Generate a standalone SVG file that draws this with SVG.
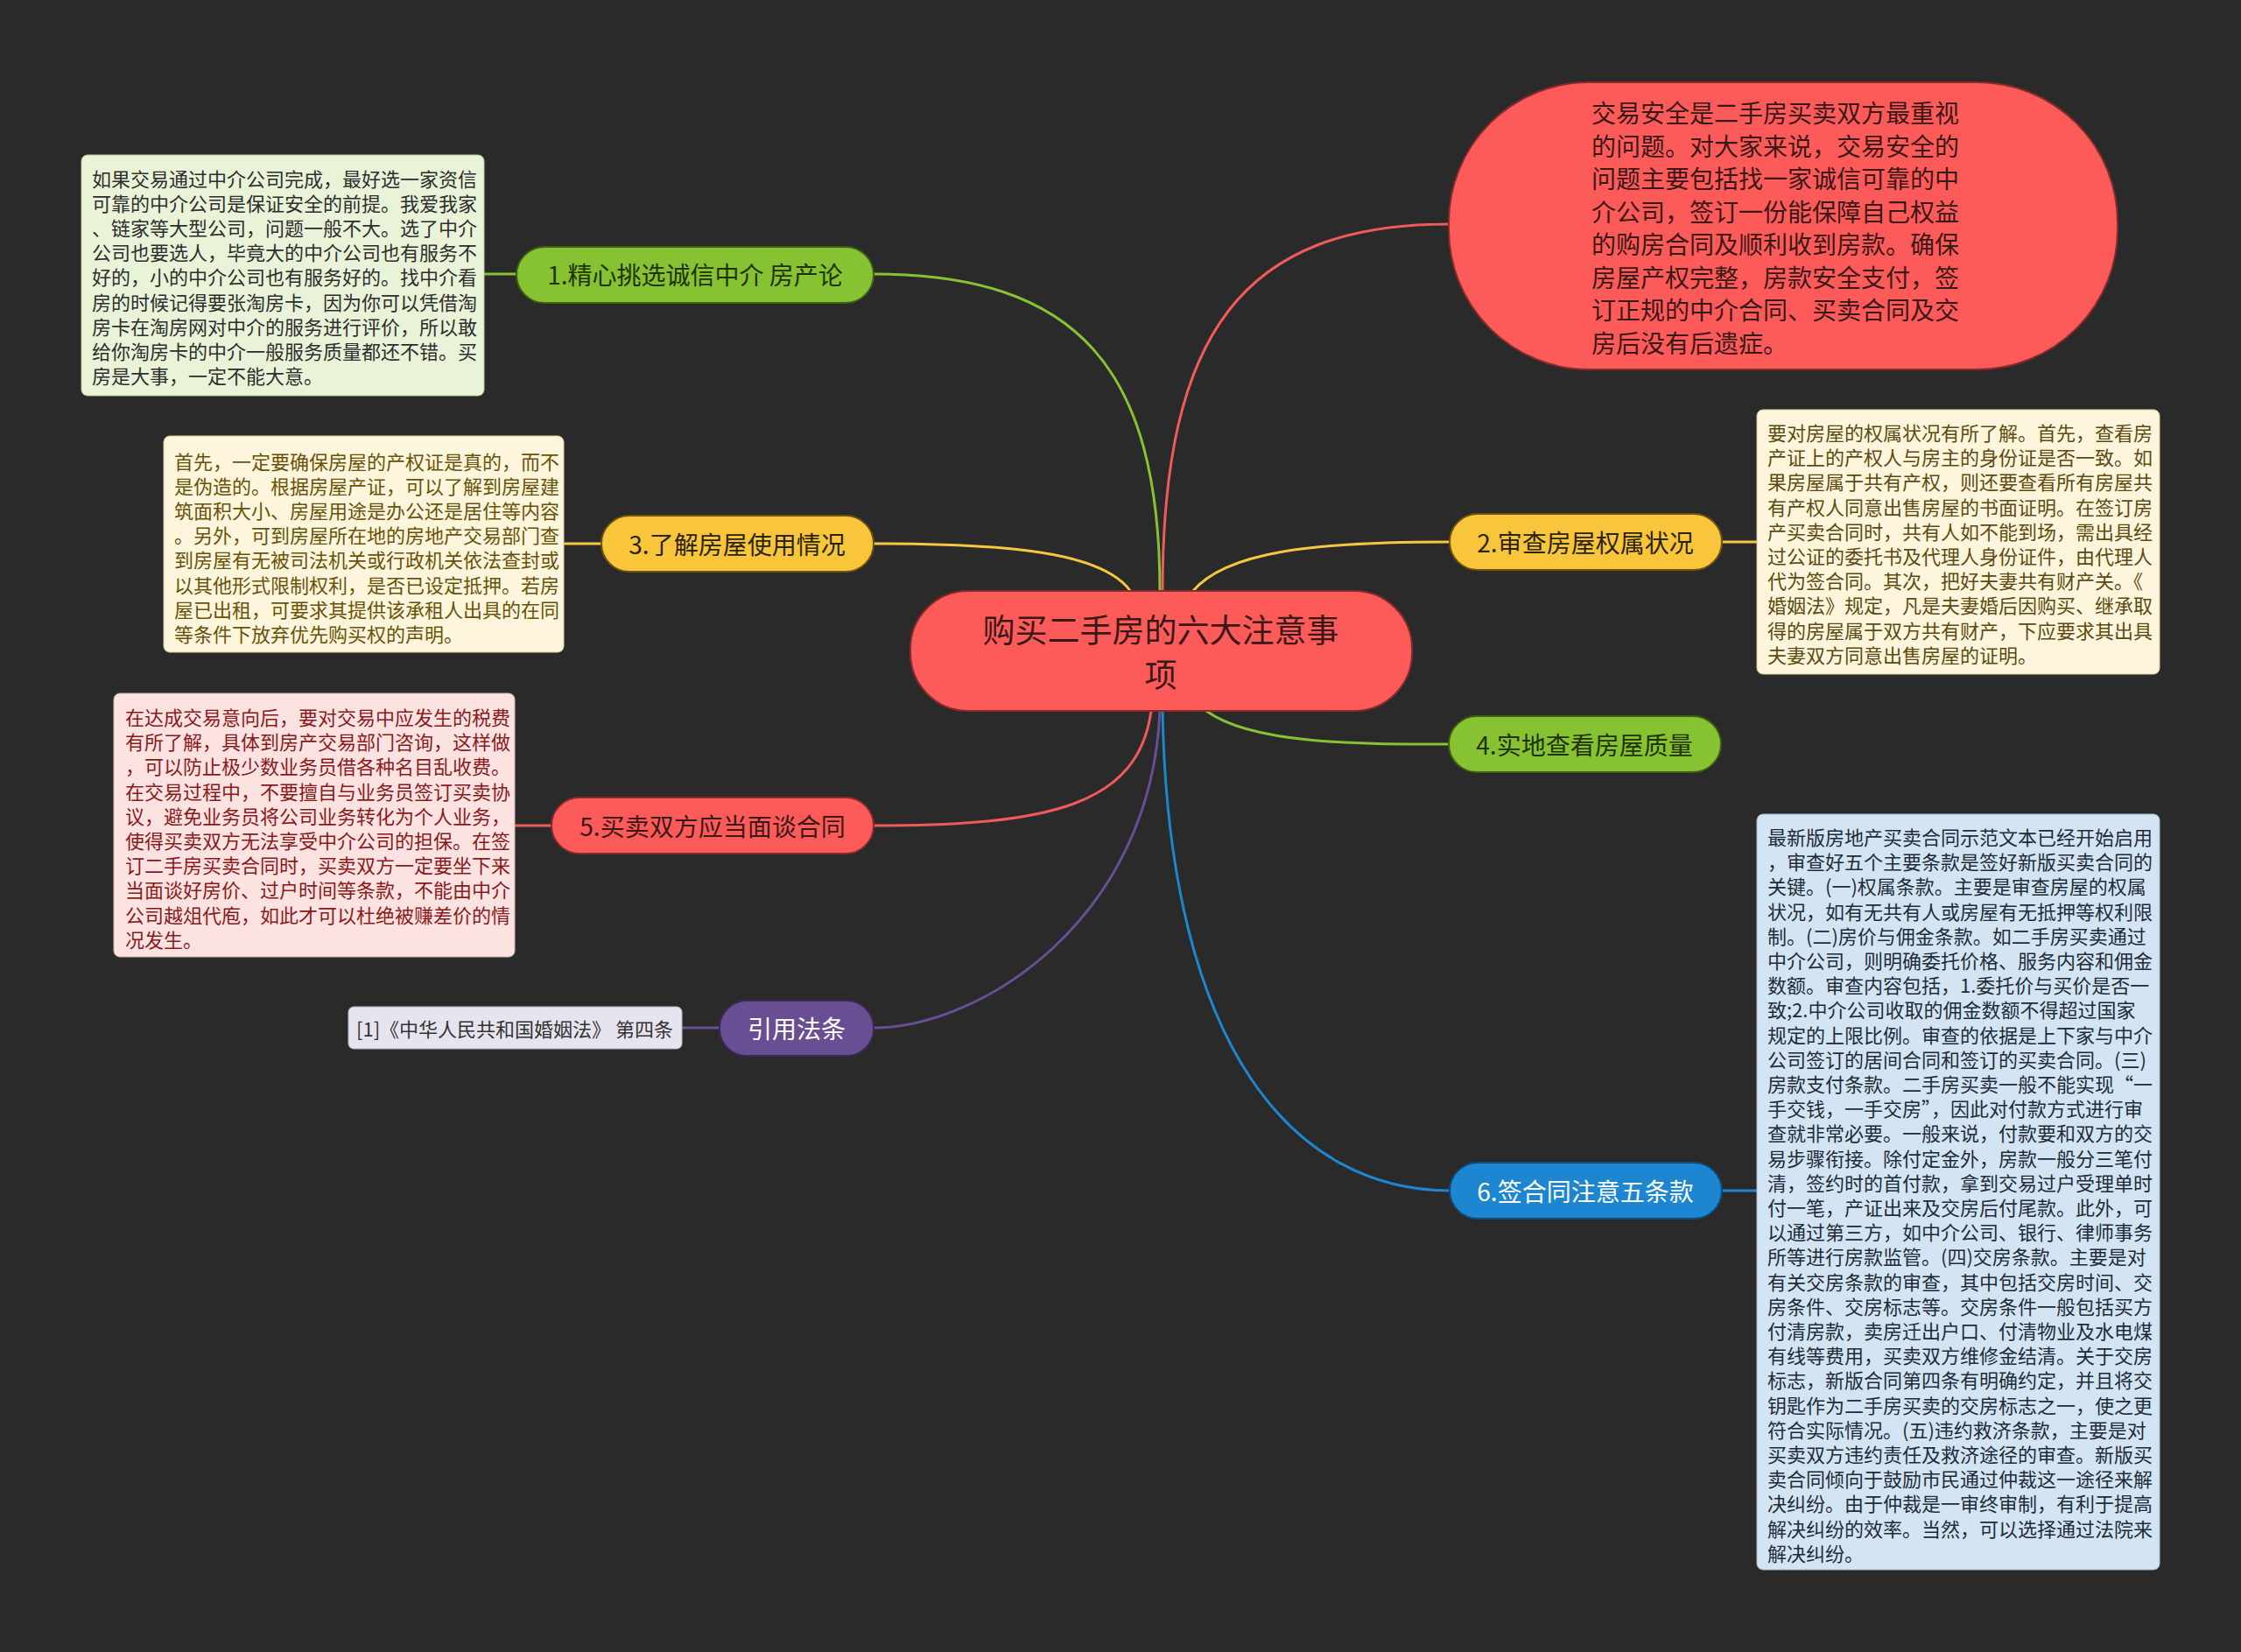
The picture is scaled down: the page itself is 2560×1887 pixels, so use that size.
<svg xmlns="http://www.w3.org/2000/svg" width="2560" height="1887" viewBox="0 0 2560 1887">
<style>
text{font-family:"Noto Sans CJK SC","Noto Sans",sans-serif;dominant-baseline:central}
.n{font-size:28px;text-anchor:middle}
.t{font-size:22px}
.c{fill:none;stroke-width:3;stroke-linecap:round}
.g{stroke:#86c232}.r{stroke:#f25a5a}.y{stroke:#f6c73e}.p{stroke:#6a4e94}.b{stroke:#1d86d0}
</style>
<rect width="2560" height="1887" fill="#2a2a2a"/>
<g id="connectors">
<path class="c g" d="M1325 676 C1325 420 1230 313 998 313"/>
<path class="c r" d="M1328 676 C1328 380 1420 256 1655 256"/>
<path class="c y" d="M998 621 C1150 621 1260 630 1292 676"/>
<path class="c y" d="M1362 676 C1400 630 1500 619 1655 619"/>
<path class="c g" d="M1378 812 C1430 850 1550 850 1655 850"/>
<path class="c r" d="M1315 812 C1300 920 1200 943 998 943"/>
<path class="c p" d="M1325 812 C1315 1050 1120 1174 998 1174"/>
<path class="c b" d="M1328 812 C1335 1200 1480 1360 1656 1360"/>
<path class="c g" d="M552 313 H589"/>
<path class="c y" d="M645 621 H686"/>
<path class="c r" d="M588 943 H629"/>
<path class="c p" d="M779 1174 H821"/>
<path class="c y" d="M1967 619 H2007"/>
<path class="c b" d="M1967 1360 H2007"/>
</g>
<g id="center">
<rect x="1040" y="675" width="573" height="137" rx="66" fill="#fd5a5a" stroke="#8a2a2a" stroke-width="2"/>
<text x="1326" y="718" font-size="37" text-anchor="middle" fill="#3a1818">购买二手房的六大注意事</text>
<text x="1326" y="769" font-size="37" text-anchor="middle" fill="#3a1818">项</text>
</g>
<g id="node-top-red">
<rect x="1655" y="94" width="764" height="328" rx="160" fill="#fd5a5a" stroke="#8a2a2a" stroke-width="2"/>
<g font-size="28" fill="#3a1818">
<text x="1818" y="128">交易安全是二手房买卖双方最重视</text>
<text x="1818" y="165.5">的问题。对大家来说，交易安全的</text>
<text x="1818" y="203">问题主要包括找一家诚信可靠的中</text>
<text x="1818" y="240.5">介公司，签订一份能保障自己权益</text>
<text x="1818" y="278">的购房合同及顺利收到房款。确保</text>
<text x="1818" y="315.5">房屋产权完整，房款安全支付，签</text>
<text x="1818" y="353">订正规的中介合同、买卖合同及交</text>
<text x="1818" y="390.5">房后没有后遗症。</text>
</g>
</g>
<g id="node1">
<rect x="590" y="282" width="408" height="64" rx="32" fill="#86c232" stroke="#3d5f10" stroke-width="2"/>
<text class="n" x="794" y="313" fill="#1f3304">1.精心挑选诚信中介 房产论</text>
</g>
<g id="note1">
<rect x="93" y="177" width="460" height="275" rx="7" fill="#e9f3d7" stroke="#b8c8a0" stroke-width="1"/>
<g class="t" fill="#2e2e2e">
<text x="105" y="203">如果交易通过中介公司完成，最好选一家资信</text>
<text x="105" y="231.1">可靠的中介公司是保证安全的前提。我爱我家</text>
<text x="105" y="259.2">、链家等大型公司，问题一般不大。选了中介</text>
<text x="105" y="287.3">公司也要选人，毕竟大的中介公司也有服务不</text>
<text x="105" y="315.4">好的，小的中介公司也有服务好的。找中介看</text>
<text x="105" y="343.5">房的时候记得要张淘房卡，因为你可以凭借淘</text>
<text x="105" y="371.6">房卡在淘房网对中介的服务进行评价，所以敢</text>
<text x="105" y="399.7">给你淘房卡的中介一般服务质量都还不错。买</text>
<text x="105" y="427.8">房是大事，一定不能大意。</text>
</g>
</g>
<g id="node3">
<rect x="687" y="589" width="311" height="64" rx="32" fill="#f8c53b" stroke="#6e5410" stroke-width="2"/>
<text class="n" x="842" y="621" fill="#2a2410">3.了解房屋使用情况</text>
</g>
<g id="note3">
<rect x="187" y="498" width="457" height="247" rx="7" fill="#fdf6dc" stroke="#d8cba0" stroke-width="1"/>
<g class="t" fill="#6a5208">
<text x="199" y="526">首先，一定要确保房屋的产权证是真的，而不</text>
<text x="199" y="554.1">是伪造的。根据房屋产证，可以了解到房屋建</text>
<text x="199" y="582.2">筑面积大小、房屋用途是办公还是居住等内容</text>
<text x="199" y="610.3">。另外，可到房屋所在地的房地产交易部门查</text>
<text x="199" y="638.4">到房屋有无被司法机关或行政机关依法查封或</text>
<text x="199" y="666.5">以其他形式限制权利，是否已设定抵押。若房</text>
<text x="199" y="694.6">屋已出租，可要求其提供该承租人出具的在同</text>
<text x="199" y="722.7">等条件下放弃优先购买权的声明。</text>
</g>
</g>
<g id="node5">
<rect x="630" y="911" width="368" height="64" rx="32" fill="#fd5a5a" stroke="#8a2a2a" stroke-width="2"/>
<text class="n" x="814" y="943" fill="#3a1818">5.买卖双方应当面谈合同</text>
</g>
<g id="note5">
<rect x="130" y="792" width="458" height="301" rx="7" fill="#fde2e2" stroke="#d8b0b0" stroke-width="1"/>
<g class="t" fill="#8a1a1a">
<text x="143" y="818">在达成交易意向后，要对交易中应发生的税费</text>
<text x="143" y="846.2">有所了解，具体到房产交易部门咨询，这样做</text>
<text x="143" y="874.4">，可以防止极少数业务员借各种名目乱收费。</text>
<text x="143" y="902.6">在交易过程中，不要擅自与业务员签订买卖协</text>
<text x="143" y="930.8">议，避免业务员将公司业务转化为个人业务，</text>
<text x="143" y="959">使得买卖双方无法享受中介公司的担保。在签</text>
<text x="143" y="987.2">订二手房买卖合同时，买卖双方一定要坐下来</text>
<text x="143" y="1015.4">当面谈好房价、过户时间等条款，不能由中介</text>
<text x="143" y="1043.6">公司越俎代庖，如此才可以杜绝被赚差价的情</text>
<text x="143" y="1071.8">况发生。</text>
</g>
</g>
<g id="node-law">
<rect x="822" y="1143" width="176" height="63" rx="31" fill="#6a4e94" stroke="#3a2a55" stroke-width="2"/>
<text class="n" x="910" y="1174" fill="#ffffff">引用法条</text>
</g>
<g id="note-law">
<rect x="398" y="1150" width="381" height="48" rx="6" fill="#e6e4ee" stroke="#b8b4c8" stroke-width="1"/>
<text class="t" x="588" y="1174" text-anchor="middle" fill="#333333">[1]《中华人民共和国婚姻法》 第四条</text>
</g>
<g id="node2">
<rect x="1656" y="587" width="311" height="64" rx="32" fill="#f8c53b" stroke="#6e5410" stroke-width="2"/>
<text class="n" x="1811" y="619" fill="#2a2410">2.审查房屋权属状况</text>
</g>
<g id="note2">
<rect x="2007" y="468" width="460" height="302" rx="7" fill="#fdf6dc" stroke="#d8cba0" stroke-width="1"/>
<g class="t" fill="#5e4a10">
<text x="2019" y="493">要对房屋的权属状况有所了解。首先，查看房</text>
<text x="2019" y="521.2">产证上的产权人与房主的身份证是否一致。如</text>
<text x="2019" y="549.4">果房屋属于共有产权，则还要查看所有房屋共</text>
<text x="2019" y="577.6">有产权人同意出售房屋的书面证明。在签订房</text>
<text x="2019" y="605.8">产买卖合同时，共有人如不能到场，需出具经</text>
<text x="2019" y="634">过公证的委托书及代理人身份证件，由代理人</text>
<text x="2019" y="662.2">代为签合同。其次，把好夫妻共有财产关。《</text>
<text x="2019" y="690.4">婚姻法》规定，凡是夫妻婚后因购买、继承取</text>
<text x="2019" y="718.6">得的房屋属于双方共有财产，下应要求其出具</text>
<text x="2019" y="746.8">夫妻双方同意出售房屋的证明。</text>
</g>
</g>
<g id="node4">
<rect x="1655" y="818" width="311" height="64" rx="32" fill="#86c232" stroke="#3d5f10" stroke-width="2"/>
<text class="n" x="1810" y="850" fill="#1f3304">4.实地查看房屋质量</text>
</g>
<g id="node6">
<rect x="1656" y="1328" width="311" height="64" rx="32" fill="#1d86d0" stroke="#0f4a78" stroke-width="2"/>
<text class="n" x="1811" y="1360" fill="#ffffff">6.签合同注意五条款</text>
</g>
<g id="note6">
<rect x="2007" y="930" width="460" height="863" rx="7" fill="#d3e5f2" stroke="#a8bfd0" stroke-width="1"/>
<g class="t" fill="#1e2c3a">
<text x="2019" y="955">最新版房地产买卖合同示范文本已经开始启用</text>
<text x="2019" y="983.2">，审查好五个主要条款是签好新版买卖合同的</text>
<text x="2019" y="1011.4">关键。(一)权属条款。主要是审查房屋的权属</text>
<text x="2019" y="1039.6">状况，如有无共有人或房屋有无抵押等权利限</text>
<text x="2019" y="1067.8">制。(二)房价与佣金条款。如二手房买卖通过</text>
<text x="2019" y="1096">中介公司，则明确委托价格、服务内容和佣金</text>
<text x="2019" y="1124.2">数额。审查内容包括，1.委托价与买价是否一</text>
<text x="2019" y="1152.4">致;2.中介公司收取的佣金数额不得超过国家</text>
<text x="2019" y="1180.6">规定的上限比例。审查的依据是上下家与中介</text>
<text x="2019" y="1208.8">公司签订的居间合同和签订的买卖合同。(三)</text>
<text x="2019" y="1237">房款支付条款。二手房买卖一般不能实现“一</text>
<text x="2019" y="1265.2">手交钱，一手交房”，因此对付款方式进行审</text>
<text x="2019" y="1293.4">查就非常必要。一般来说，付款要和双方的交</text>
<text x="2019" y="1321.6">易步骤衔接。除付定金外，房款一般分三笔付</text>
<text x="2019" y="1349.8">清，签约时的首付款，拿到交易过户受理单时</text>
<text x="2019" y="1378">付一笔，产证出来及交房后付尾款。此外，可</text>
<text x="2019" y="1406.2">以通过第三方，如中介公司、银行、律师事务</text>
<text x="2019" y="1434.4">所等进行房款监管。(四)交房条款。主要是对</text>
<text x="2019" y="1462.6">有关交房条款的审查，其中包括交房时间、交</text>
<text x="2019" y="1490.8">房条件、交房标志等。交房条件一般包括买方</text>
<text x="2019" y="1519">付清房款，卖房迁出户口、付清物业及水电煤</text>
<text x="2019" y="1547.2">有线等费用，买卖双方维修金结清。关于交房</text>
<text x="2019" y="1575.4">标志，新版合同第四条有明确约定，并且将交</text>
<text x="2019" y="1603.6">钥匙作为二手房买卖的交房标志之一，使之更</text>
<text x="2019" y="1631.8">符合实际情况。(五)违约救济条款，主要是对</text>
<text x="2019" y="1660">买卖双方违约责任及救济途径的审查。新版买</text>
<text x="2019" y="1688.2">卖合同倾向于鼓励市民通过仲裁这一途径来解</text>
<text x="2019" y="1716.4">决纠纷。由于仲裁是一审终审制，有利于提高</text>
<text x="2019" y="1744.6">解决纠纷的效率。当然，可以选择通过法院来</text>
<text x="2019" y="1772.8">解决纠纷。</text>
</g>
</g>
</svg>
